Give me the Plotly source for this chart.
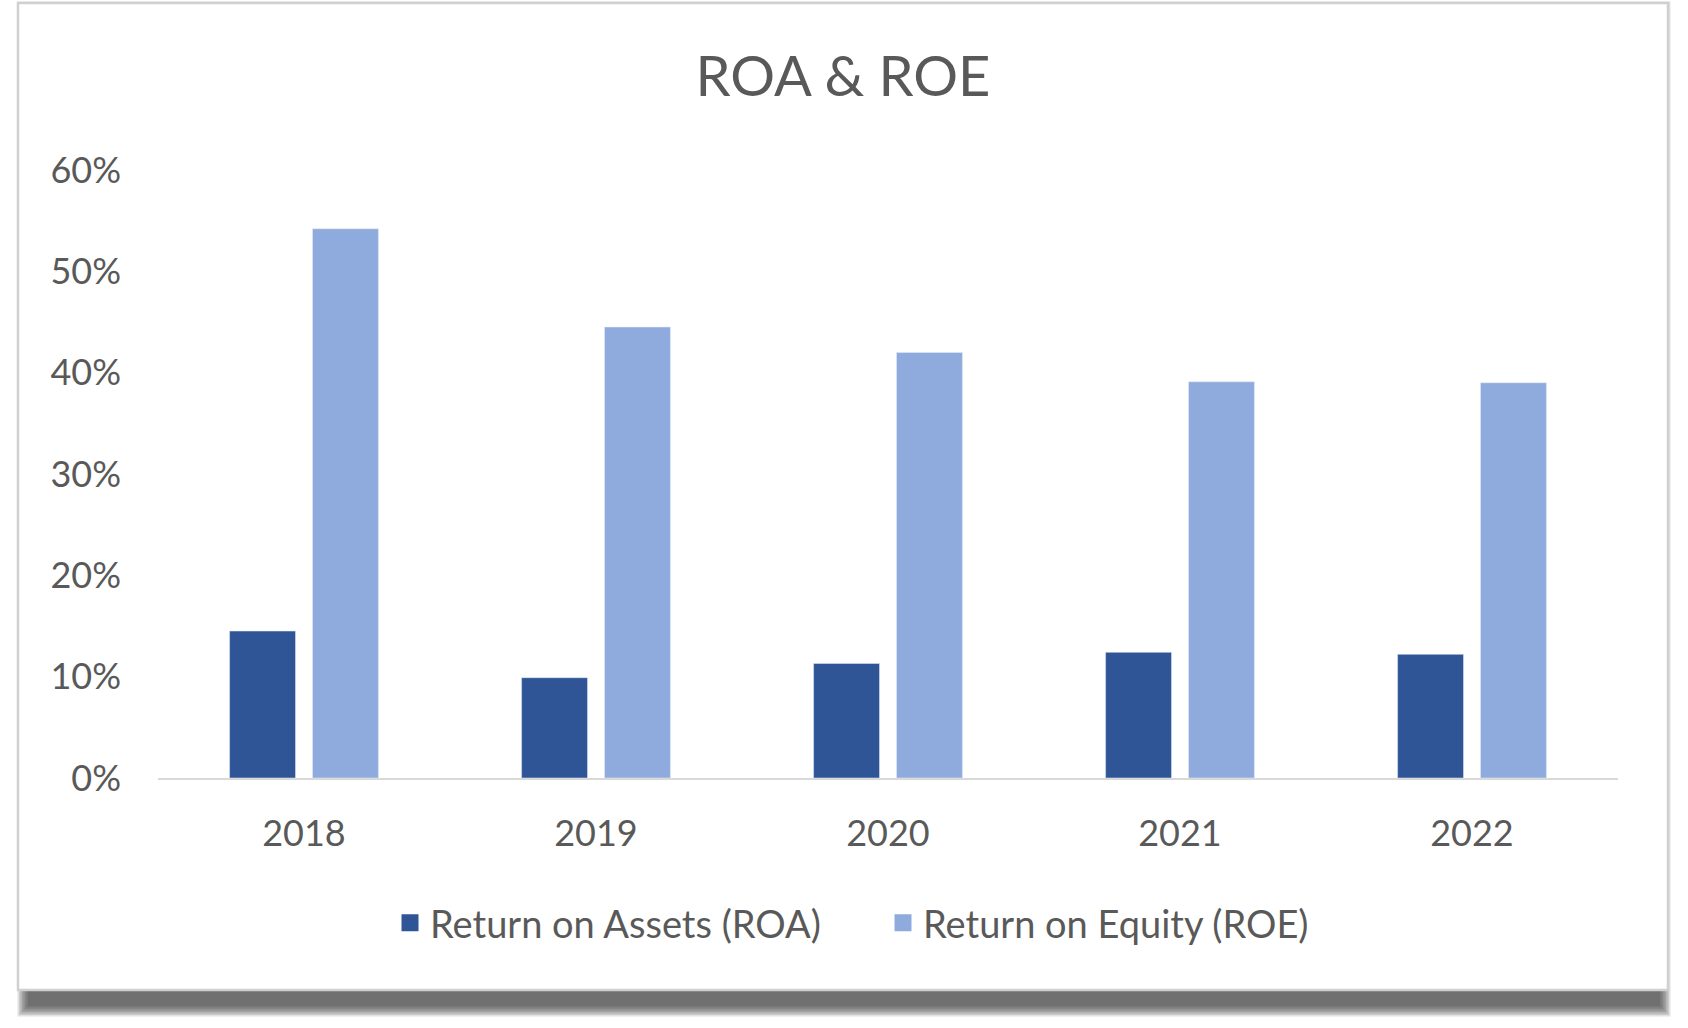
import plotly.graph_objects as go

# ---- data ----
years = ["2018", "2019", "2020", "2021", "2022"]
roa = [0.145, 0.099, 0.113, 0.124, 0.122]
roe = [0.542, 0.445, 0.420, 0.391, 0.390]
series_names = ["Return on Assets (ROA)", "Return on Equity (ROE)"]
title_text = "ROA & ROE"

# ---- style ----
W, H = 1688, 1028
PL, PR, PT, PB = 158, 1618, 170, 778  # plot area in px
FONT = "Lato"
TXT = "#595959"
C_ROA = "#2F5597"
C_ROE = "#8FAADC"


def fx(px):
    return (px - PL) / (PR - PL)


def fy(py):
    return (PB - py) / (PB - PT)


fig = go.Figure()
fig.add_trace(go.Bar(x=years, y=roa, name=series_names[0], marker_color=C_ROA,
                     legendgroup="roa", offsetgroup="roa", showlegend=False))
fig.add_trace(go.Bar(x=years, y=roe, name=series_names[1], marker_color=C_ROE,
                     legendgroup="roe", offsetgroup="roe", showlegend=False))
# legend entries (larger swatches, no data drawn), sharing the same offset groups
for nm, col, grp in [(series_names[0], C_ROA, "roa"), (series_names[1], C_ROE, "roe")]:
    fig.add_trace(go.Bar(x=[None], y=[None], name=nm, legendgroup=grp, offsetgroup=grp,
                         marker=dict(color=col, line=dict(color=col, width=9)),
                         showlegend=True, hoverinfo="skip"))

shapes = []
# soft drop shadow (stacked translucent rects)
bx0, by0, bx1, by1 = 28, 12, 1660, 1006
for i in range(8):
    e = i * 1.5
    shapes.append(dict(type="rect", xref="paper", yref="paper", layer="below",
                       x0=fx(bx0 - e), x1=fx(bx1 + e), y0=fy(by1 + e), y1=fy(by0 - e),
                       line=dict(width=0), fillcolor="rgba(60,60,60,0.15)"))
# card
shapes.append(dict(type="rect", xref="paper", yref="paper", layer="below",
                   x0=fx(18), x1=fx(1668), y0=fy(990), y1=fy(3),
                   line=dict(color="#D0D0D0", width=2.5), fillcolor="white"))

fig.update_layout(
    width=W, height=H,
    margin=dict(l=PL, r=W - PR, t=PT, b=H - PB, pad=0),
    paper_bgcolor="white", plot_bgcolor="rgba(0,0,0,0)",
    font=dict(family=FONT, color=TXT, size=36),
    title=dict(text=title_text, x=843 / W, xref="container", xanchor="center",
               y=1 - 76 / H, yref="container", yanchor="middle",
               font=dict(family=FONT, size=56, color=TXT)),
    barmode="group", bargap=0.432, bargroupgap=0.205,
    showlegend=True,
    legend=dict(orientation="h", x=fx(390), xanchor="left", y=fy(923), yanchor="middle",
                entrywidth=448, entrywidthmode="pixels",
                font=dict(family=FONT, size=38, color=TXT), bgcolor="rgba(0,0,0,0)"),
    shapes=shapes,
)
fig.update_xaxes(showline=True, linecolor="#D9D9D9", linewidth=2, showgrid=False,
                 ticks="", ticklabelstandoff=23, tickfont=dict(size=36, color=TXT, family=FONT))
fig.update_yaxes(range=[0, 0.6], dtick=0.1, tickformat=".0%", showgrid=False,
                 zeroline=False, showline=False, ticks="", ticklabelstandoff=36,
                 tickfont=dict(size=36, color=TXT, family=FONT))

fig.write_html("out.html", config={"displayModeBar": False},
               post_script="document.body.style.margin='0';")
